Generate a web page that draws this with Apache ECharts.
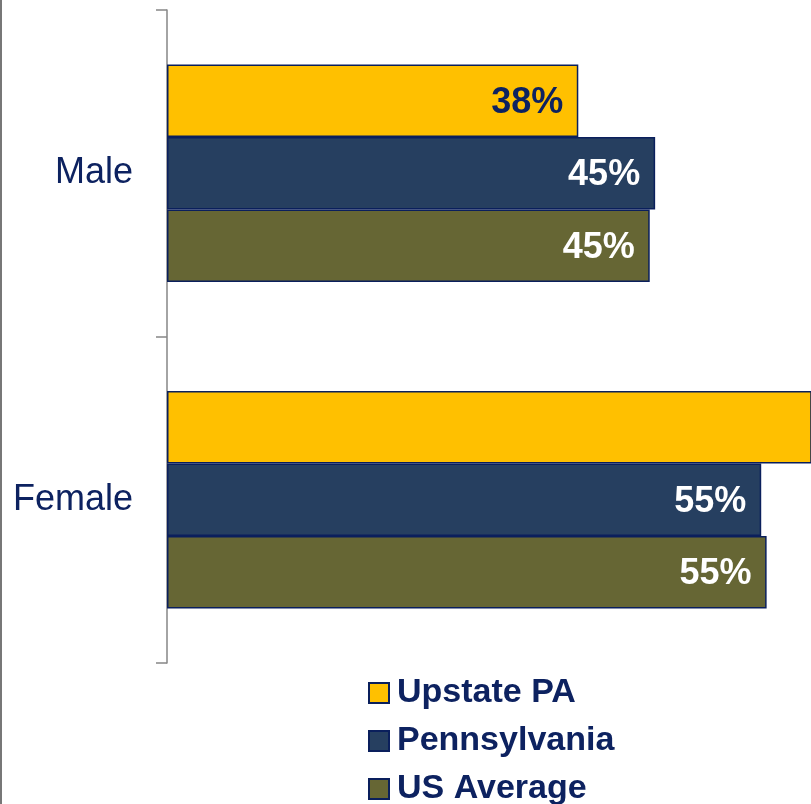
<!DOCTYPE html>
<html>
<head>
<meta charset="utf-8">
<script src="https://cdn.jsdelivr.net/npm/echarts@6/dist/echarts.min.js"></script>
<style>
  html, body { margin: 0; padding: 0; background: #fff; }
  #chart { width: 811px; height: 804px; }
</style>
</head>
<body>
<div id="chart"></div>
<script>
// categories and values (percent)
var categories = ['Male', 'Female'];
var seriesNames = ['Upstate PA', 'Pennsylvania', 'US Average'];
var upstatePA = [38.0, 62.0];
var pennsylvania = [45.1, 54.9];
var usAverage = [44.6, 55.4];

var axisMax = 59.5; // plot area is cut at the right edge of the picture

var navy = '#0d2260';
var border = '#0a1f5c';

var chart = echarts.init(document.getElementById('chart'));

function barSeries(name, data, color, labelColor) {
  return {
    name: name,
    type: 'bar',
    data: data,
    barWidth: 72.5,
    barGap: '0%',
    clip: true,
    itemStyle: {
      color: color,
      borderColor: border,
      borderWidth: 1.5
    },
    label: {
      show: true,
      position: 'insideRight',
      distance: 15,
      offset: [0, 2],
      color: labelColor,
      fontFamily: 'Liberation Sans, Arial, sans-serif',
      fontWeight: 'bold',
      fontSize: 36,
      formatter: function (p) {
        // label of a bar running off the picture is cut away
        return p.value > axisMax ? '' : Math.round(p.value) + '%';
      }
    }
  };
}

var option = {
  animation: false,
  backgroundColor: '#fff',
  grid: {
    left: 167,
    right: 0,
    top: 10,
    bottom: 141,
    containLabel: false
  },
  xAxis: {
    type: 'value',
    min: 0,
    max: axisMax,
    show: false
  },
  yAxis: {
    type: 'category',
    data: categories,
    inverse: true,
    axisLine: { lineStyle: { color: '#868686', width: 1.5 } },
    axisTick: { show: true, length: 11, lineStyle: { color: '#868686', width: 1.5 } },
    axisLabel: {
      margin: 34,
      color: navy,
      fontFamily: 'Liberation Sans, Arial, sans-serif',
      fontSize: 36,
      padding: [0, 0, 6, 0]
    }
  },
  legend: {
    orient: 'vertical',
    left: 363,
    top: 668,
    height: 200,
    itemWidth: 20,
    itemHeight: 20,
    itemGap: 8,
    icon: 'rect',
    data: seriesNames,
    textStyle: {
      color: navy,
      fontFamily: 'Liberation Sans, Arial, sans-serif',
      fontWeight: 'bold',
      fontSize: 34,
      lineHeight: 40,
      padding: [0, 0, 0, 3]
    }
  },
  graphic: [{
    type: 'line',
    shape: { x1: 1, y1: 0, x2: 1, y2: 804 },
    style: { stroke: '#777', lineWidth: 2 }
  }],
  series: [
    barSeries(seriesNames[0], upstatePA, '#ffc000', navy),
    barSeries(seriesNames[1], pennsylvania, '#263f60', '#fff'),
    barSeries(seriesNames[2], usAverage, '#666634', '#fff')
  ]
};

chart.setOption(option);
</script>
</body>
</html>
